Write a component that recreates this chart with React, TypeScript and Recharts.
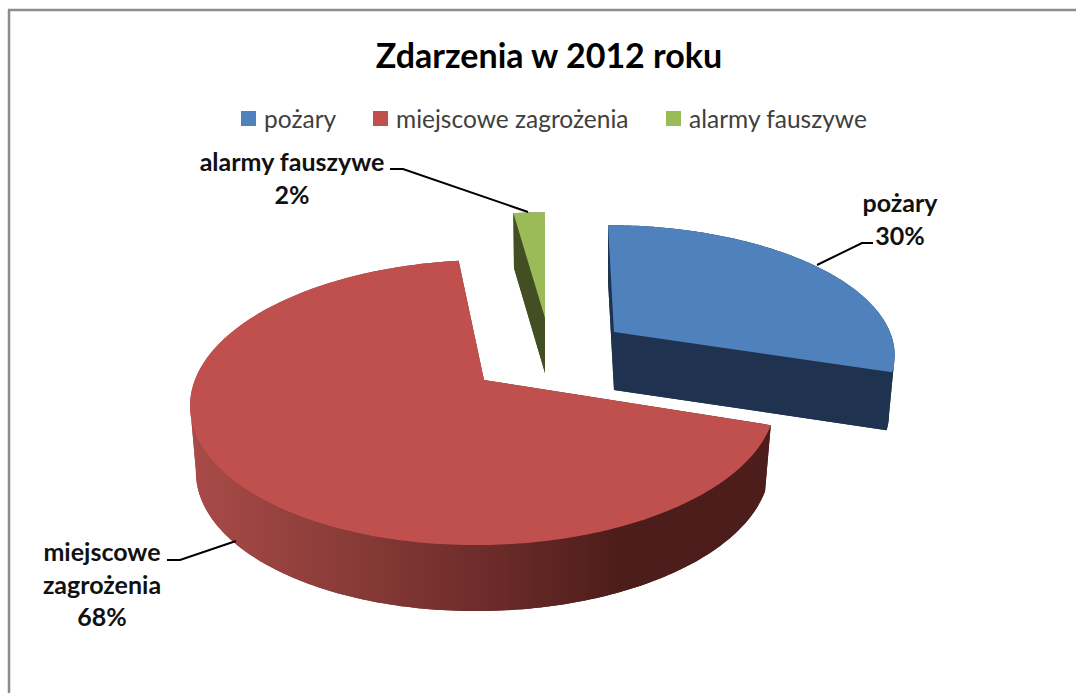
import { PieChart, Pie, Legend } from 'recharts';

const CATEGORIES = ['pożary', 'miejscowe zagrożenia', 'alarmy fauszywe'];
const VALUES = [30, 68, 2];
const COLORS = ['#4f81bd', '#c0504d', '#9bbb59'];
const WALL_COLORS = ['#1f3350', 'url(#redWall)', '#434f23'];

const data = CATEGORIES.map((name, i) => ({ name, value: VALUES[i], fill: COLORS[i] }));

// exploded slice placement, the picture has its own perspective for each slice
const SLICE_LAYOUT = [
  { dx: 129, dy: -48, sx: 0.945, sy: 0.89, skew: 0.056, depth: 58 },
  { dx: -1, dy: 0, sx: 0.99, sy: 1, skew: -0.05, depth: 66 },
  { dx: 60, dy: -62, sx: 1, sy: 0.88, skew: 0, depth: 55 },
];

const LABEL_LAYOUT = [
  { x: 900, y: 212, lines: ['pożary'], leader: '873,243 862,243 817,265' },
  { x: 102, y: 561, lines: ['miejscowe', 'zagrożenia'], leader: '167,560 180,560 236,541' },
  { x: 292, y: 171, lines: ['alarmy fauszywe'], leader: '390,169 403,169 528,212' },
];

const LEGEND_STARTS = [241, 373, 666];

const FONT = 'Lato, "Open Sans", sans-serif';
const TILT = 0.476;
const PERSPECTIVE = 0.158;
const SHRINK = 0.98;

type Pt = { x: number; y: number };

function project(angle: number, r: number, l: typeof SLICE_LAYOUT[number]): Pt {
  const rad = (angle * Math.PI) / 180;
  const w = 1 + PERSPECTIVE * Math.sin(rad);
  const y = (-r * TILT * Math.sin(rad) * l.sy) / w;
  const x = (r * Math.cos(rad) * l.sx) / w + l.skew * y;
  return { x, y };
}

// a wall strip that turns back over itself cancels out when filled, so cut the rim where x reverses
function splitRuns(rim: Pt[]) {
  const runs: Pt[][] = [];
  let run: Pt[] = [rim[0]];
  let dir = 0;
  for (let i = 1; i < rim.length; i++) {
    const d = Math.sign(rim[i].x - rim[i - 1].x);
    if (dir !== 0 && d !== 0 && d !== dir) {
      runs.push(run);
      run = [rim[i - 1]];
    }
    if (d !== 0) dir = d;
    run.push(rim[i]);
  }
  runs.push(run);
  return runs;
}

function Slice3D(props: any) {
  const { cx, cy, outerRadius, startAngle, endAngle, fill, name } = props;
  const idx = CATEGORIES.indexOf(name);
  const l = SLICE_LAYOUT[idx];
  const ax = cx + l.dx;
  const ay = cy + l.dy;
  const steps = Math.max(4, Math.ceil(Math.abs(endAngle - startAngle)));

  const rim: Pt[] = [];
  for (let i = 0; i <= steps; i++) {
    rim.push(project(startAngle + ((endAngle - startAngle) * i) / steps, outerRadius, l));
  }
  const apex = { x: 0, y: 0 };
  const outline = [apex, ...rim];
  const top = (p: Pt) => `${ax + p.x},${ay + p.y}`;
  const bottom = (p: Pt) => `${ax + p.x * SHRINK},${ay + p.y + l.depth}`;
  const wall = WALL_COLORS[idx];
  const last = rim[rim.length - 1];

  return (
    <g>
      <defs>
        <linearGradient id="redWall" gradientUnits="userSpaceOnUse" x1={189} y1={0} x2={620} y2={0}>
          <stop offset="0%" stopColor="#a94b48" />
          <stop offset="40%" stopColor="#863a37" />
          <stop offset="70%" stopColor="#6c2b29" />
          <stop offset="100%" stopColor="#4d1d1b" />
        </linearGradient>
      </defs>
      <polygon points={outline.map(bottom).join(' ')} fill={wall} />
      <polygon points={[top(apex), top(rim[0]), bottom(rim[0]), bottom(apex)].join(' ')} fill={wall} />
      <polygon points={[top(apex), top(last), bottom(last), bottom(apex)].join(' ')} fill={wall} />
      {splitRuns(rim).map((run, i) => (
        <polygon key={i} points={[...run.map(top), ...[...run].reverse().map(bottom)].join(' ')} fill={wall} />
      ))}
      <polygon points={outline.map(top).join(' ')} fill={fill} />
    </g>
  );
}

function SliceLabel(props: any) {
  const { index, percent } = props;
  const l = LABEL_LAYOUT[index];
  const lines = [...l.lines, `${Math.round(percent * 100)}%`];
  return (
    <g>
      <polyline points={l.leader} fill="none" stroke="#000" strokeWidth={2} />
      {lines.map((t, i) => (
        <text key={i} x={l.x} y={l.y + i * 32.5} textAnchor="middle" fontFamily={FONT} fontWeight={700} fontSize={25} fill="#111">
          {t}
        </text>
      ))}
    </g>
  );
}

function LegendRow({ payload }: any) {
  const items = [...(payload || [])].sort(
    (a: any, b: any) => CATEGORIES.indexOf(a.value) - CATEGORIES.indexOf(b.value),
  );
  return (
    <div style={{ position: 'relative', height: 30, fontFamily: FONT, fontSize: 24.5, color: '#404040' }}>
      {items.map((e: any, i: number) => (
        <div key={e.value} style={{ position: 'absolute', left: LEGEND_STARTS[i], top: 0, whiteSpace: 'nowrap', lineHeight: '30px' }}>
          <span style={{ position: 'absolute', left: 0, top: 7, width: 15, height: 15, background: e.color }} />
          <span style={{ marginLeft: 23 }}>{e.value}</span>
        </div>
      ))}
    </div>
  );
}

export default function App() {
  return (
    <div style={{ position: 'absolute', left: 0, top: 0, width: 1076, height: 693, background: '#fff' }}>
      <PieChart width={1076} height={693} margin={{ top: 0, right: 0, bottom: 0, left: 0 }}>
        <line x1={9} y1={10} x2={9} y2={693} stroke="#8c8c8c" strokeWidth={2.5} />
        <line x1={8} y1={10} x2={1076} y2={10} stroke="#8c8c8c" strokeWidth={2.5} />
        <text x={549} y={68} textAnchor="middle" fontFamily={FONT} fontWeight={700} fontSize={34} fill="#000">
          Zdarzenia w 2012 roku
        </text>
        <Legend
          content={<LegendRow />}
          wrapperStyle={{ position: 'absolute', left: 0, top: 104, width: 1076 }}
        />
        <Pie
          data={data}
          dataKey="value"
          nameKey="name"
          cx={485}
          cy={380}
          outerRadius={292}
          startAngle={90}
          endAngle={-270}
          stroke="none"
          shape={Slice3D}
          label={SliceLabel}
          labelLine={false}
          isAnimationActive={false}
        />
      </PieChart>
    </div>
  );
}
